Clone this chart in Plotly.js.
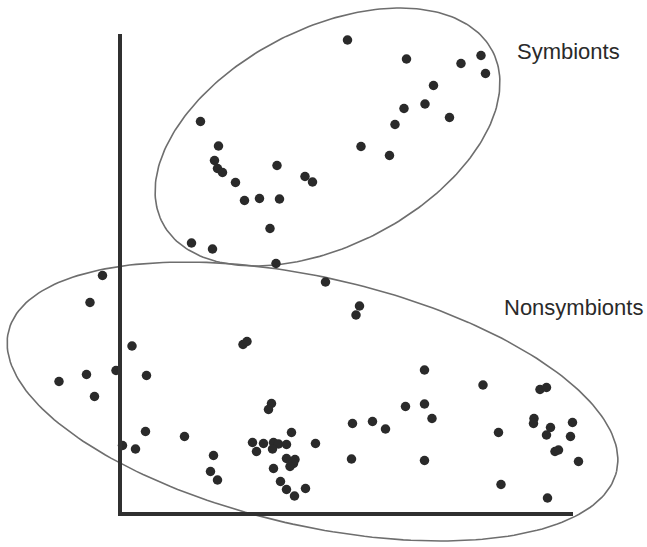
<!DOCTYPE html>
<html>
<head>
<meta charset="utf-8">
<script src="https://cdn.plot.ly/plotly-3.0.1.min.js"></script>
<style>html,body{margin:0;padding:0;background:#fff;}#chart{width:647px;height:547px;}</style>
</head>
<body>
<div id="chart"></div>
<script>
// Symbionts group
const symX = [4.55, 5.73, 6.82, 7.22, 7.31, 6.27, 6.10, 5.68, 6.59, 5.50, 4.82, 5.39,
  1.61, 1.97, 1.89, 1.95, 2.05, 2.31, 3.14, 3.70, 3.85, 2.49, 2.79, 3.19, 3.00, 1.43, 1.85, 3.12];
const symY = [9.48, 9.10, 9.01, 9.17, 8.81, 8.57, 8.20, 8.11, 7.93, 7.79, 7.35, 7.17,
  7.85, 7.36, 7.07, 6.91, 6.83, 6.63, 6.97, 6.75, 6.64, 6.27, 6.31, 6.30, 5.71, 5.42, 5.30, 5.01];

// Nonsymbionts group
const nonX = [-0.35, -0.60, 0.24, -1.22, -0.67, -0.51, -0.08, 0.53, 2.46, 2.54, 3.03, 2.97,
  0.51, 1.29, 0.05, 0.31, 1.87, 1.81, 1.95, 2.65, 2.73, 2.87, 3.07, 3.17, 3.33, 3.05, 3.43, 3.91,
  3.33, 3.50, 3.47, 3.40, 3.07, 3.21, 3.33, 3.49, 3.71,
  4.11, 4.79, 4.72, 6.09, 7.26, 8.40, 8.53, 5.71, 6.09, 6.24, 4.65, 5.05, 5.31, 7.57,
  8.28, 8.27, 8.61, 8.53, 9.05, 9.01, 8.70, 8.77, 9.17, 4.63, 6.09, 7.62, 8.55];
const nonY = [4.77, 4.23, 3.36, 2.65, 2.79, 2.35, 2.87, 2.77, 3.39, 3.45, 2.21, 2.09,
  1.65, 1.55, 1.37, 1.30, 1.17, 0.85, 0.68, 1.43, 1.25, 1.41, 1.43, 1.40, 1.39, 1.30, 1.63, 1.41,
  1.11, 1.09, 1.01, 0.95, 0.91, 0.65, 0.49, 0.36, 0.51,
  4.64, 4.16, 3.98, 2.88, 2.58, 2.49, 2.53, 2.15, 2.20, 1.91, 1.81, 1.85, 1.70, 1.63,
  1.91, 1.81, 1.73, 1.58, 1.83, 1.55, 1.25, 1.28, 1.05, 1.10, 1.07, 0.59, 0.32];

const groupLabels = ["Symbionts", "Nonsymbionts"];

// ellipse outlines: [cx, cy, semi-major, semi-minor, angle deg]
const symEllipse = [4.15, 7.54, 3.72, 2.17, 27.5];
const nonEllipse = [3.85, 2.25, 6.24, 2.48, -12.9];

function ellipsePts(e) {
  const [cx, cy, a, b, deg] = e;
  const t = deg * Math.PI / 180;
  const xs = [], ys = [];
  for (let i = 0; i <= 240; i++) {
    const u = i / 240 * 2 * Math.PI;
    const px = a * Math.cos(u), py = b * Math.sin(u);
    xs.push(cx + px * Math.cos(t) - py * Math.sin(t));
    ys.push(cy + px * Math.sin(t) + py * Math.cos(t));
  }
  return {xs, ys};
}

const e1 = ellipsePts(symEllipse), e2 = ellipsePts(nonEllipse);
const lineStyle = {color: '#6e6e6e', width: 1.6};
const markerStyle = {color: '#2a2a2a', size: 9.5};

const data = [
  {x: e1.xs, y: e1.ys, mode: 'lines', line: lineStyle, hoverinfo: 'skip'},
  {x: e2.xs, y: e2.ys, mode: 'lines', line: lineStyle, hoverinfo: 'skip'},
  {x: symX, y: symY, mode: 'markers', marker: markerStyle, name: groupLabels[0]},
  {x: nonX, y: nonY, mode: 'markers', marker: markerStyle, name: groupLabels[1]}
];

const axisColor = '#303030';
const labelFont = {family: 'Liberation Sans, Arial, sans-serif', size: 22, color: '#2a2a2a'};
const layout = {
  width: 647, height: 547,
  margin: {l: 0, r: 0, t: 0, b: 0},
  paper_bgcolor: '#ffffff', plot_bgcolor: '#ffffff',
  showlegend: false,
  xaxis: {range: [-2.4, 10.54], visible: false, fixedrange: true},
  yaxis: {range: [-0.66, 10.28], visible: false, fixedrange: true},
  shapes: [
    {type: 'line', xref: 'x', yref: 'y', x0: 0, x1: 0, y0: -0.04, y1: 9.6, line: {color: axisColor, width: 4}},
    {type: 'line', xref: 'x', yref: 'y', x0: -0.04, x1: 9.06, y0: 0, y1: 0, line: {color: axisColor, width: 4}}
  ],
  annotations: [
    {x: 8.96, y: 9.26, xref: 'x', yref: 'y', text: groupLabels[0], showarrow: false, font: labelFont},
    {x: 9.06, y: 4.14, xref: 'x', yref: 'y', text: groupLabels[1], showarrow: false, font: labelFont}
  ]
};

Plotly.newPlot('chart', data, layout, {displayModeBar: false, staticPlot: true});
</script>
</body>
</html>
